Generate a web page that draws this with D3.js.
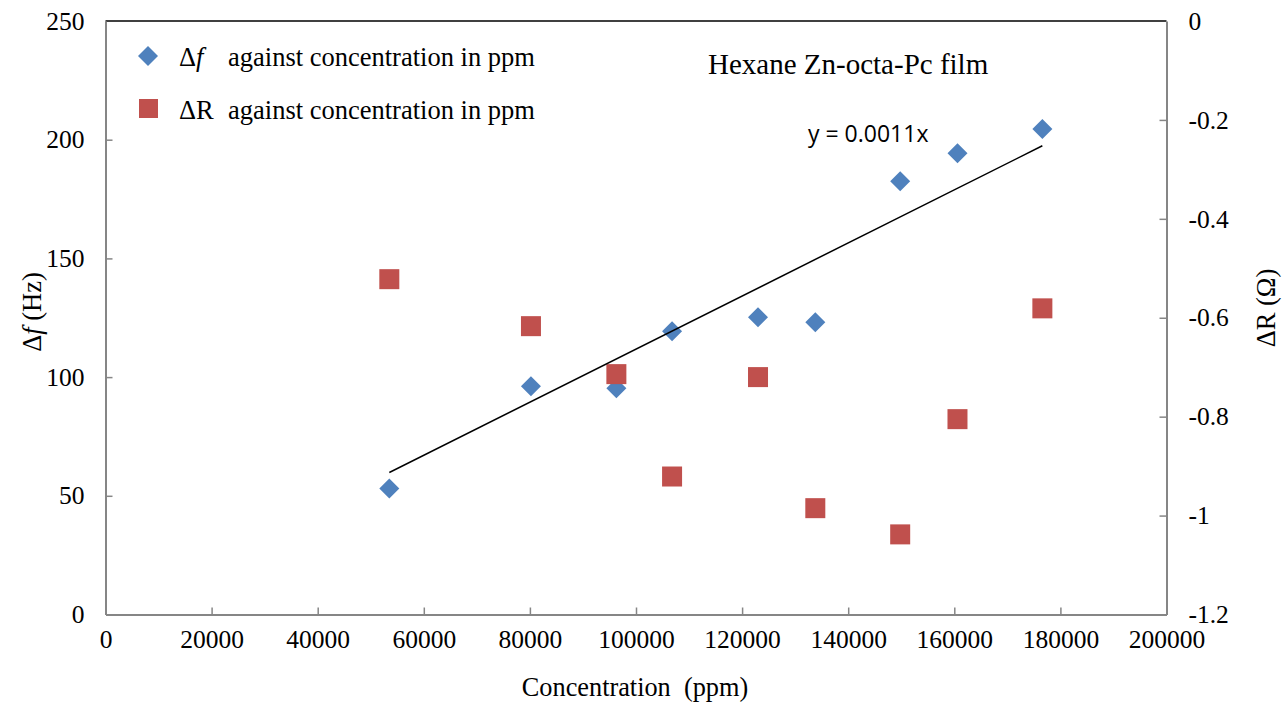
<!DOCTYPE html>
<html><head><meta charset="utf-8">
<script src="https://cdn.jsdelivr.net/npm/d3@7"></script>
<style>body{margin:0;background:#fff}svg{display:block}
.serif{font-family:"Liberation Serif","Times New Roman",Times,"DejaVu Serif",serif}
</style>
</head><body>
<script>
const concentration = [53500, 80200, 96300, 106800, 123000, 133800, 149800, 160600, 176600];
const deltaF = [53.1, 96.1, 95.3, 119.3, 125.2, 123.1, 182.5, 194.3, 204.5];
const deltaR = [-0.522, -0.617, -0.714, -0.921, -0.720, -0.985, -1.038, -0.805, -0.581];
const xTicks = [0, 20000, 40000, 60000, 80000, 100000, 120000, 140000, 160000, 180000, 200000];
const yLeftTicks = [0, 50, 100, 150, 200, 250];
const yRightTicks = [0, -0.2, -0.4, -0.6, -0.8, -1, -1.2];
const trendSlope = 0.001118;

const W = 1287, H = 704;
const L = 105.5, R = 1166.5, T = 21, B = 614.5;
const svg = d3.select("body").append("svg").attr("width", W).attr("height", H);
const x = d3.scaleLinear().domain([0, 200000]).range([L, R]);
const yL = d3.scaleLinear().domain([0, 250]).range([B, T]);
const yR = d3.scaleLinear().domain([-1.2, 0]).range([B, T]);
const gray = "#868686";
const TICK_FS = 25.5;

svg.append("line").attr("x1", L).attr("x2", R).attr("y1", T).attr("y2", T).attr("stroke", "#000").attr("stroke-width", 1.5);

function styleAxis(g) {
  g.attr("font-family", null);
  g.selectAll(".domain").attr("stroke", gray).attr("stroke-width", 2);
  g.selectAll(".tick line").attr("stroke", gray).attr("stroke-width", 1.5);
  g.selectAll("text").attr("class", "serif").attr("font-size", TICK_FS).attr("fill", "#000");
}
const gx = svg.append("g").attr("transform", `translate(0,${B})`)
  .call(d3.axisBottom(x).tickValues(xTicks).tickFormat(d3.format("d")).tickSizeInner(-7).tickSizeOuter(0).tickPadding(15));
styleAxis(gx);
const gl = svg.append("g").attr("transform", `translate(${L},0)`)
  .call(d3.axisLeft(yL).tickValues(yLeftTicks).tickFormat(d3.format("d")).tickSizeInner(-7).tickSizeOuter(0).tickPadding(21));
styleAxis(gl);
const gr = svg.append("g").attr("transform", `translate(${R},0)`)
  .call(d3.axisRight(yR).tickValues(yRightTicks).tickFormat(d => d === 0 ? "0" : String(d)).tickSizeInner(-7).tickSizeOuter(0).tickPadding(22));
styleAxis(gr);
gr.selectAll(".tick").filter(d => d === 0 || d === -1.2).select("line").remove();
gl.selectAll(".tick").filter(d => d === 0 || d === 250).select("line").remove();
gx.selectAll(".tick").filter(d => d === 0 || d === 200000).select("line").remove();

svg.append("text").attr("class", "serif").attr("x", 635).attr("y", 696).attr("text-anchor", "middle")
  .attr("font-size", 26.3).attr("xml:space", "preserve").text("Concentration  (ppm)");
const lt = svg.append("text").attr("class", "serif").attr("transform", `translate(41,312) rotate(-90)`).attr("text-anchor", "middle")
  .attr("font-size", 26.5).attr("xml:space", "preserve");
lt.append("tspan").text("Δ");
lt.append("tspan").attr("font-style", "italic").text("f");
lt.append("tspan").text(" (Hz)");
svg.append("text").attr("class", "serif").attr("transform", `translate(1275,308) rotate(-90)`).attr("text-anchor", "middle")
  .attr("font-size", 26.5).text("ΔR (Ω)");

const diamond = d3.symbol().type(d3.symbolSquare).size(200);
svg.append("g").selectAll("path").data(concentration).join("path")
  .attr("d", diamond)
  .attr("transform", (d, i) => `translate(${x(d)},${yL(deltaF[i])}) rotate(45)`)
  .attr("fill", "#4F81BD");
svg.append("g").selectAll("rect").data(concentration).join("rect")
  .attr("x", d => x(d) - 10).attr("y", (d, i) => yR(deltaR[i]) - 10)
  .attr("width", 20).attr("height", 20).attr("fill", "#C0504D");

const x0 = d3.min(concentration), x1 = d3.max(concentration);
svg.append("line").attr("x1", x(x0)).attr("y1", yL(trendSlope * x0))
  .attr("x2", x(x1)).attr("y2", yL(trendSlope * x1)).attr("stroke", "#000").attr("stroke-width", 1.5);
svg.append("text").attr("x", 808).attr("y", 142).attr("font-family", "Open Sans, Liberation Sans, sans-serif")
  .attr("font-size", 23).text("y = 0.0011x");

svg.append("text").attr("class", "serif").attr("x", 708).attr("y", 74).attr("font-size", 29)
  .text("Hexane Zn-octa-Pc film");

svg.append("path").attr("d", diamond).attr("transform", "translate(148,56) rotate(45)").attr("fill", "#4F81BD");
svg.append("rect").attr("x", 139).attr("y", 99).attr("width", 19).attr("height", 19).attr("fill", "#C0504D");
const l1 = svg.append("text").attr("class", "serif").attr("x", 179).attr("y", 66).attr("font-size", 26.5);
l1.append("tspan").text("Δ");
l1.append("tspan").attr("font-style", "italic").text("f");
svg.append("text").attr("class", "serif").attr("x", 228).attr("y", 66).attr("font-size", 26.5)
  .text("against concentration in ppm");
svg.append("text").attr("class", "serif").attr("x", 179).attr("y", 119).attr("font-size", 26.5).text("ΔR");
svg.append("text").attr("class", "serif").attr("x", 228).attr("y", 119).attr("font-size", 26.5)
  .text("against concentration in ppm");
</script>
</body></html>
